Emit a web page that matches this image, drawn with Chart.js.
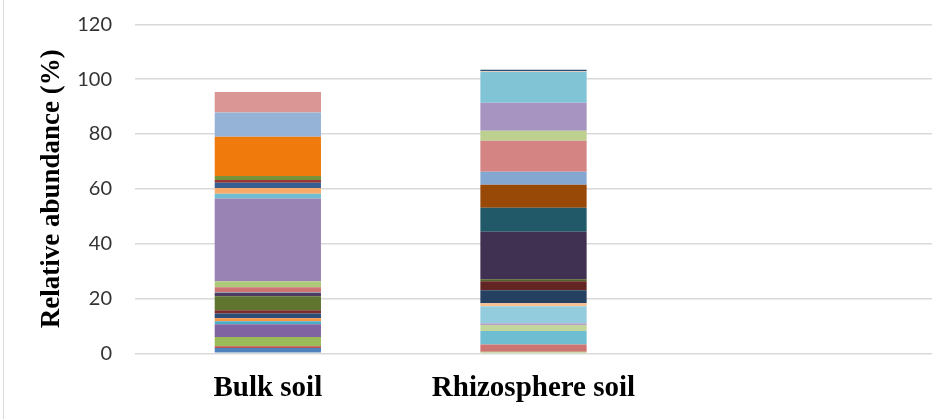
<!DOCTYPE html>
<html>
<head>
<meta charset="utf-8">
<script src="https://cdn.jsdelivr.net/npm/chart.js@4/dist/chart.umd.min.js"></script>
<style>
  html, body { margin: 0; padding: 0; background: #ffffff; }
  #wrap { width: 937px; height: 419px; position: relative; }
</style>
</head>
<body>
<div id="wrap"><canvas id="c" width="937" height="419"></canvas></div>
<script>
// ---- data ----
const categories = ["Bulk soil", "Rhizosphere soil", ""];
const yTickLabels = [0, 20, 40, 60, 80, 100, 120];
const seriesNames = [
  "S1","S2","S3","S4","S5","S6","S7","S8","S9","S10",
  "S11","S12","S13","S14","S15","S16","S17","S18","S19","S20",
  "S21","S22","S23","S24","S25","S26","S27","S28","S29","S30",
  "S31","S32","S33","S34","S35","S36","S37","S38","S39","S40",
  "S41","S42","S43"
];
const bulkSoil = [
  1.9, 0.7, 3.3, 4.7, 1.1, 1.1, 1.7, 1.2, 5.1, 1.2,
  0.3, 0, 0, 1.8, 2.2, 30.2, 1.7, 2.1, 1.9, 1.0,
  1.5, 0, 0, 14.3, 8.8, 7.5, 0, 0, 0, 0,
  0, 0, 0, 0, 0, 0, 0, 0, 0, 0,
  0, 0, 0
];
const rhizosphereSoil = [
  0, 0, 0.6, 0, 0, 0, 0, 0, 0, 0,
  0, 0, 0, 2.6, 0, 0, 4.9, 0, 0, 0,
  0, 0, 0, 0, 0, 0, 2.2, 0.7, 6.2, 1.1,
  4.7, 3.3, 0.7, 17.3, 8.8, 8.4, 4.7, 11.3, 3.7, 10.2,
  11.3, 0.3, 0.4
];
const emptyCategory = new Array(43).fill(0);
const seriesColors = [
  "#4f81bd","#c0504d","#9bbb59","#8064a2","#4bacc6","#f79646",
  "#2c4d75","#772c2a","#5f7530","#4d3b62","#7f8fa3","#b65708",
  "#729aca","#cd7371","#afc97a","#9983b5","#6fbdd1","#f9ab6b",
  "#376092","#953735","#77933c","#604a7b","#31859c","#f07a0b",
  "#95b3d7","#d99694","#c3d69b","#b3a2c7","#93cddd","#fac08f",
  "#254061","#632523","#4f6228","#403152","#215968","#984807",
  "#84a7d2","#d48483","#bdd08f","#a794c1","#80c4d6","#f9c79e",
  "#2c4d75"
];

// ---- chart ----
const datasets = seriesNames.map((name, i) => ({
  label: name,
  data: [bulkSoil[i], rhizosphereSoil[i], emptyCategory[i]],
  backgroundColor: seriesColors[i],
  borderWidth: 0,
  categoryPercentage: 1.0,
  barPercentage: 0.4
}));

const leftBorder = {
  id: 'leftBorder',
  beforeDraw(chart) {
    const ctx = chart.ctx;
    ctx.save();
    ctx.fillStyle = '#ffffff';
    ctx.fillRect(0, 0, chart.width, chart.height);
    ctx.strokeStyle = '#d9d9d9';
    ctx.lineWidth = 1;
    ctx.beginPath();
    ctx.moveTo(3.5, 0);
    ctx.lineTo(3.5, chart.height);
    ctx.stroke();
    ctx.restore();
  }
};

new Chart(document.getElementById('c'), {
  type: 'bar',
  data: { labels: categories, datasets: datasets },
  plugins: [leftBorder],
  options: {
    responsive: false,
    animation: false,
    layout: { padding: { left: 20, top: 24.3, right: 5, bottom: 0 } },
    plugins: { legend: { display: false }, tooltip: { enabled: false } },
    scales: {
      x: {
        stacked: true,
        grid: { display: false, drawTicks: false },
        border: { display: false },
        ticks: {
          padding: 18,
          color: '#000000',
          font: { family: '"Liberation Serif", "Times New Roman", serif', size: 29, weight: 'bold' }
        },
        afterFit(scale) { scale.height = 65.7; }
      },
      y: {
        stacked: true,
        min: 0,
        max: 120,
        afterBuildTicks(scale) { scale.ticks = yTickLabels.map(v => ({ value: v })); },
        grid: { color: '#d9d9d9', lineWidth: 1.5, drawTicks: false },
        border: { display: false },
        ticks: {
          padding: 23,
          color: '#333333',
          font: { family: 'Lato, "Liberation Sans", sans-serif', size: 20 }
        },
        title: {
          display: true,
          text: 'Relative abundance (%)',
          color: '#000000',
          padding: { top: 16, bottom: 0 },
          font: { family: '"Liberation Serif", "Times New Roman", serif', size: 27, weight: 'bold' }
        },
        afterFit(scale) {
          scale.width = 115;
          scale.paddingTop = 12;
          scale.paddingBottom = 12;
        }
      }
    }
  }
});
</script>
</body>
</html>
